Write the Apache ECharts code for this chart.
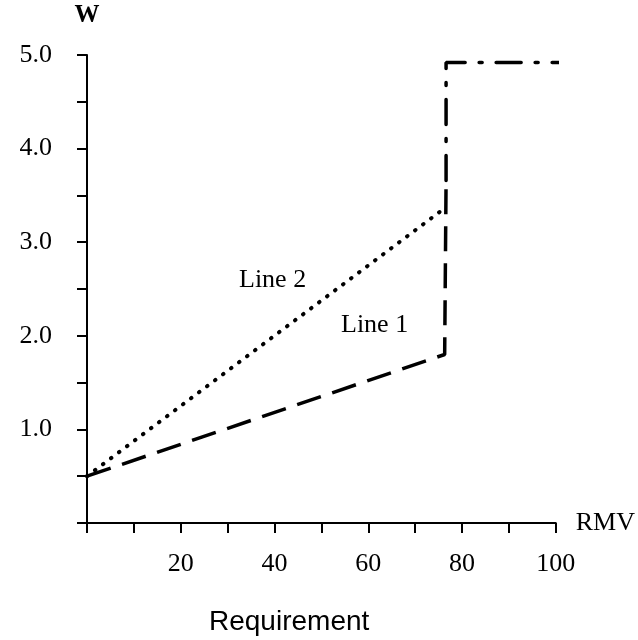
<!DOCTYPE html>
<html>
<head>
<meta charset="utf-8">
<script src="https://cdn.jsdelivr.net/npm/echarts@6/dist/echarts.min.js"></script>
<style>
  html, body { margin: 0; padding: 0; background: #fff; }
  #chart { width: 638px; height: 640px; }
</style>
</head>
<body>
<div id="chart"></div>
<script>
// values
const xLabels = [20, 40, 60, 80, 100];
const yLabels = [1, 2, 3, 4, 5];
// line 1, dashed part
const line1 = [[0, 0.5], [76.3, 1.8], [76.6, 3.66]];
// line 1, dash-dot part
const line1Top = [[76.6, 3.66], [76.6, 4.92], [101.8, 4.92]];
// line 2, dotted
const line2 = [[0, 0.5], [75.4, 3.33]];

const serif = 'Liberation Serif';
const ink = '#000';

const chart = echarts.init(document.getElementById('chart'));

chart.setOption({
  animation: false,
  backgroundColor: '#fff',
  title: {
    text: 'Requirement',
    left: 209,
    top: 608,
    padding: 0,
    textStyle: { fontFamily: 'Liberation Sans', fontSize: 28, fontWeight: 'normal', color: '#000' }
  },
  grid: { left: 87, right: 80, top: 55, bottom: 117, containLabel: false },
  xAxis: {
    type: 'value',
    min: 0,
    max: 100,
    interval: 10,
    name: 'RMV',
    nameLocation: 'end',
    nameGap: 20,
    nameTextStyle: { fontFamily: serif, fontSize: 26, color: ink, padding: [14, 0, 0, 0] },
    axisLine: { show: true, lineStyle: { color: ink, width: 2 } },
    axisTick: { show: true, length: 10, lineStyle: { color: ink, width: 2 } },
    splitLine: { show: false },
    axisLabel: {
      margin: 28,
      fontFamily: serif,
      fontSize: 26,
      color: ink,
      showMinLabel: true,
      showMaxLabel: true,
      formatter: (v) => (xLabels.indexOf(v) >= 0 ? String(v) : '')
    }
  },
  yAxis: {
    type: 'value',
    min: 0,
    max: 5,
    interval: 0.5,
    name: 'W',
    nameLocation: 'end',
    nameGap: 27,
    nameTextStyle: { fontFamily: serif, fontSize: 25, fontWeight: 'bold', color: ink, align: 'center' },
    axisLine: { show: true, lineStyle: { color: ink, width: 2 } },
    axisTick: { show: true, length: 10, lineStyle: { color: ink, width: 2 } },
    splitLine: { show: false },
    axisLabel: {
      margin: 35,
      fontFamily: serif,
      fontSize: 26,
      color: ink,
      showMinLabel: true,
      showMaxLabel: true,
      formatter: (v) => (yLabels.indexOf(v) >= 0 ? v.toFixed(1) : '')
    }
  },
  series: [
    {
      name: 'Line 1',
      type: 'line',
      data: line1,
      symbol: 'none',
      clip: false,
      lineStyle: { color: '#000', width: 3.5, type: [25, 12] }
    },
    {
      name: 'Line 1 top',
      type: 'line',
      data: line1Top,
      symbol: 'none',
      clip: false,
      lineStyle: { color: '#000', width: 3.5, type: [25, 14, 3, 14], cap: 'round' }
    },
    {
      name: 'Line 2',
      type: 'line',
      data: line2,
      symbol: 'none',
      clip: false,
      lineStyle: { color: '#000', width: 4, type: [0.5, 9.5], cap: 'round' }
    }
  ],
  graphic: [
    {
      type: 'text',
      left: 239,
      top: 267,
      style: { text: 'Line 2', font: '26px "Liberation Serif"', fill: ink }
    },
    {
      type: 'text',
      left: 341,
      top: 312,
      style: { text: 'Line 1', font: '26px "Liberation Serif"', fill: ink }
    }
  ]
});
</script>
</body>
</html>
